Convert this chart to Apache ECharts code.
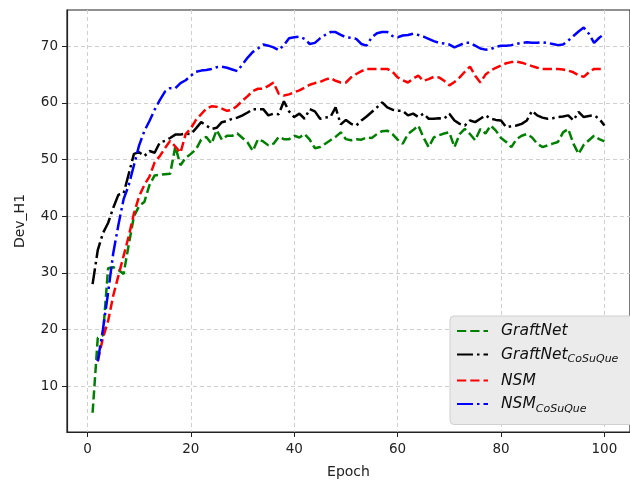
<!DOCTYPE html>
<html>
<head>
<meta charset="utf-8">
<script src="https://cdn.jsdelivr.net/npm/echarts@6/dist/echarts.min.js"></script>
<style>
  html, body { margin: 0; padding: 0; background: #ffffff; }
  #chart { width: 630px; height: 484px; }
</style>
</head>
<body>
<div id="chart"></div>
<script>
// Training epochs 1..100
const epochs = Array.from({ length: 100 }, (_, i) => i + 1);

// Dev_H1 per epoch
const graftNet = [
  5.3, 18.5, 19, 30.8, 31, 30.5, 29.8, 35, 40, 41.8,
  42.5, 45.5, 47.2, 47.3, 47.4, 47.5, 52.3, 49, 50.3, 51,
  51.8, 53.5, 54, 52.8, 55.2, 53.5, 54.2, 54.2, 54.6, 53.8,
  53, 51.5, 53.6, 53.2, 52.5, 52.8, 54, 53.6, 53.6, 54.2,
  53.9, 54.5, 53.5, 52, 52.2, 52.8, 53.4, 54, 54.8, 53.6,
  53.4, 53.6, 53.5, 53.9, 53.8, 54.5, 55, 55.1, 54.5, 53.5,
  52.8, 54.5, 55.2, 56, 53.9, 52.2, 53.9, 54.3, 54.6, 54.8,
  52.2, 54.5, 55.4, 54.5, 53.4, 55.4, 54.6, 56, 55.1, 53.8,
  53.1, 52.2, 53.6, 54.2, 54.5, 53.9, 52.8, 52.2, 52.5, 52.8,
  53.1, 54.8, 55.4, 52.8, 51, 52.6, 53.4, 54.2, 53.6, 53.2
];

const graftNetCoSuQue = [
  28, 34, 37, 38.8, 41.5, 43.8, 44, 47.5, 51, 51.3,
  50.6, 51.5, 51.2, 53, 53.3, 53.8, 54.4, 54.4, 54.6, 54.5,
  55.5, 56.6, 56, 55.4, 55.6, 56.6, 56.8, 57.2, 57.4, 57.8,
  58.3, 58.9, 58.9, 58.9, 57.8, 58.1, 58, 60.3, 58.5, 57.5,
  58.1, 57.2, 58.9, 58.5, 57.2, 57.4, 57.5, 59.2, 56.2, 57,
  56.3, 56, 56.9, 57.6, 58.4, 59.2, 60.1, 59.2, 58.8, 58.6,
  58.6, 57.8, 58.1, 57.5, 58.1, 57.2, 57.2, 57.3, 57.2, 58.1,
  56.9, 56.3, 56, 56.9, 56.6, 57.2, 57.8, 57.2, 57, 56.9,
  55.7, 55.9, 56, 56.3, 56.9, 58.6, 57.8, 57.4, 57.2, 57.3,
  57.5, 57.6, 57.8, 56.9, 58.4, 57.5, 57.7, 57.8, 57.2, 56
];

const nsm = [
  null, 14.4, 18.5, 21.5, 26, 29.5, 33, 36.5, 40.5, 43.5,
  45.5, 47, 49.5, 50.6, 52, 53.3, 52.3, 51.2, 54.5, 55.5,
  57, 58, 59, 59.4, 59.3, 59, 58.6, 58.8, 59.5, 60.4,
  61.2, 62.1, 62.5, 62.5, 63, 63.6, 61.6, 61.3, 61.5, 61.9,
  62.2, 62.7, 63.2, 63.5, 63.7, 64.1, 64.4, 63.9, 63.6, 63.6,
  64.5, 65.1, 65.6, 66, 66, 66, 66, 66, 65.5, 64.5,
  64, 63.6, 64.3, 64.8, 63.9, 64.2, 64.6, 64.5, 63.9, 63.1,
  63.7, 64.5, 65.5, 66.4, 64.8, 63.6, 65, 65.7, 66.2, 66.6,
  67, 67.2, 67.3, 67.1, 66.8, 66.5, 66.2, 66, 66, 66,
  66, 65.9, 65.7, 65.4, 64.9, 64.6, 65.4, 66, 66, 66
];

const nsmCoSuQue = [
  null, 14.4, 20, 26.5, 33.5, 38.5, 43, 45.5, 49, 52.5,
  55, 56.8, 58.8, 60.5, 62, 62.6, 62.6, 63.5, 64, 64.8,
  65.5, 65.7, 65.8, 66, 66.3, 66.4, 66.2, 65.9, 65.6, 66.8,
  68, 69, 69.6, 70.3, 70.1, 69.8, 69.3, 70.2, 71.4, 71.6,
  71.7, 71.3, 70.4, 70.6, 71.4, 72, 72.5, 72.5, 72, 71.6,
  71.5, 71.3, 70.4, 70.1, 71.6, 72.3, 72.5, 72.5, 71.8, 71.6,
  71.9, 72, 72.2, 72, 71.7, 71.3, 70.9, 70.6, 70.5, 70.3,
  69.8, 70.2, 70.6, 70.6, 70.1, 69.6, 69.4, 69.5, 69.9, 70.1,
  70.1, 70.2, 70.4, 70.6, 70.7, 70.6, 70.6, 70.7, 70.6, 70.4,
  70.2, 70.3, 71, 71.8, 72.6, 73.3, 72.2, 70.6, 71.5, 72.2
];

const xTicks = [0, 20, 40, 60, 80, 100];
const yTicks = [10, 20, 30, 40, 50, 60, 70];

const FONT = 'DejaVu Sans';
const LW = 2.5;
const dashed = [3.7 * LW, 1.6 * LW];
const dashDot = [6.4 * LW, 1.6 * LW, 1 * LW, 1.6 * LW];

function pairs(values) {
  return epochs.map((e, i) => [e, values[i]]);
}

function lineSeries(name, values, color, dash) {
  return {
    name: name,
    type: 'line',
    data: pairs(values),
    symbol: 'none',
    showSymbol: false,
    connectNulls: false,
    animation: false,
    lineStyle: { color: color, width: LW, type: dash, cap: 'butt' },
    itemStyle: { color: color }
  };
}

const chart = echarts.init(document.getElementById('chart'), null, { renderer: 'canvas' });

const gridLine = { show: true, lineStyle: { color: '#cfcfcf', type: [4, 3], width: 1 } };

chart.setOption({
  backgroundColor: '#ffffff',
  animation: false,
  textStyle: { fontFamily: FONT },
  grid: {
    left: 67, top: 10, right: -9, bottom: 50, containLabel: false,
    show: true, borderColor: '#222', borderWidth: 1.2, backgroundColor: 'transparent'
  },
  xAxis: {
    type: 'value',
    min: -3.95,
    max: 104.95,
    name: 'Epoch',
    nameLocation: 'middle',
    nameGap: 33,
    nameTextStyle: { fontFamily: FONT, fontSize: 14, color: '#222' },
    axisLine: { show: true, onZero: false, lineStyle: { color: '#222', width: 1.2 } },
    axisTick: { show: true, length: 5, customValues: xTicks, lineStyle: { color: '#222' } },
    axisLabel: { customValues: xTicks, fontFamily: FONT, fontSize: 13.5, color: '#222', margin: 10 },
    splitLine: gridLine
  },
  yAxis: {
    type: 'value',
    min: 1.9,
    max: 76.4,
    name: 'Dev_H1',
    nameLocation: 'middle',
    nameGap: 40,
    nameRotate: 90,
    nameTextStyle: { fontFamily: FONT, fontSize: 14, color: '#222' },
    axisLine: { show: true, onZero: false, lineStyle: { color: '#222', width: 1.2 } },
    axisTick: { show: true, length: 5, customValues: yTicks, lineStyle: { color: '#222' } },
    axisLabel: { customValues: yTicks, fontFamily: FONT, fontSize: 13.5, color: '#222', margin: 9 },
    splitLine: gridLine
  },
  legend: {
    orient: 'vertical',
    left: 450,
    top: 316,
    padding: [7, 40, 10, 6],
    itemGap: 7.5,
    itemWidth: 31,
    itemHeight: 18,
    backgroundColor: '#ebebeb',
    borderColor: '#d0d0d0',
    borderWidth: 1,
    borderRadius: 4,
    itemStyle: { opacity: 0 },
    formatter: function (name) {
      const parts = name.split('_');
      return parts.length > 1 ? '{m|' + parts[0] + '}{s|' + parts[1] + '}' : '{m|' + name + '}';
    },
    textStyle: {
      fontFamily: FONT,
      fontSize: 15.5,
      padding: [0, 0, 0, 8],
      rich: {
        m: { fontFamily: FONT, fontStyle: 'italic', fontSize: 15.5, color: '#111', height: 18 },
        s: { fontFamily: FONT, fontStyle: 'italic', fontSize: 11, color: '#111', height: 18, padding: [10, 0, 0, 0] }
      }
    },
    data: ['GraftNet', 'GraftNet_CoSuQue', 'NSM', 'NSM_CoSuQue']
  },
  series: [
    lineSeries('GraftNet', graftNet, '#008000', dashed),
    lineSeries('GraftNet_CoSuQue', graftNetCoSuQue, '#000000', dashDot),
    lineSeries('NSM', nsm, '#ff0000', dashed),
    lineSeries('NSM_CoSuQue', nsmCoSuQue, '#0000ff', dashDot)
  ]
});
</script>
</body>
</html>
